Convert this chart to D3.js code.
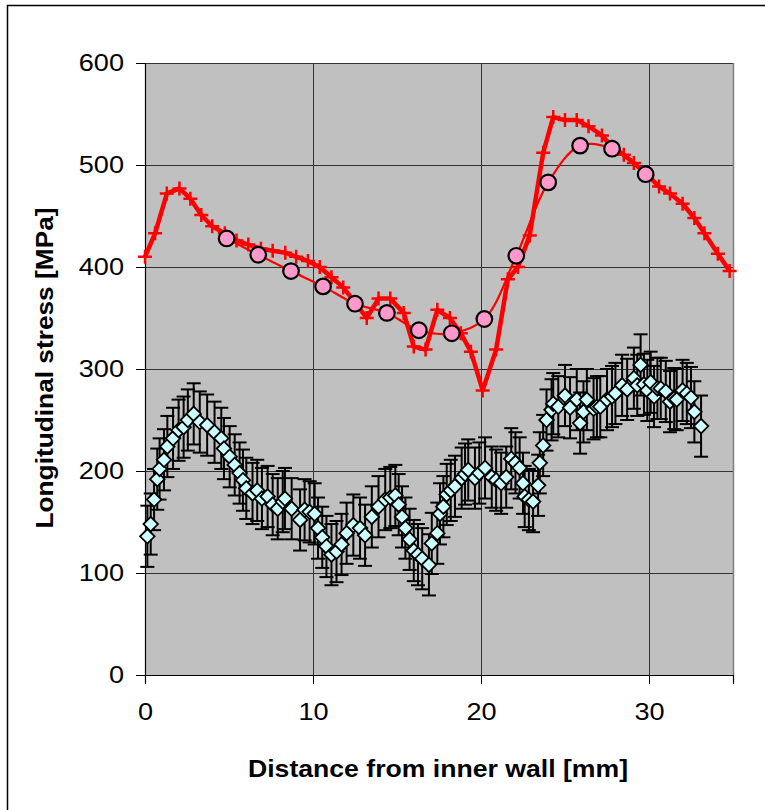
<!DOCTYPE html>
<html>
<head>
<meta charset="utf-8">
<script src="https://cdn.jsdelivr.net/npm/d3@7"></script>
<style>
  html, body { margin: 0; padding: 0; background: #fff; }
  svg { display: block; }
  text { font-family: Arial, "Liberation Sans", sans-serif; }
</style>
</head>
<body>
<svg id="chart" width="765" height="810"></svg>
<script>
// ---------------- data ----------------
const xTicks = [0, 10, 20, 30];
const yTicks = [0, 100, 200, 300, 400, 500, 600];
const xTitle = "Distance from inner wall [mm]";
const yTitle = "Longitudinal stress [MPa]";

// Series 1: thick red line with "+" markers
const s1x = [0, 0.6, 1.3, 2.05, 2.7, 3.35, 4.0, 4.75, 5.45, 6.15, 6.9, 7.6, 8.35, 9.0, 9.7, 10.4, 11.1, 11.8, 12.5, 13.2, 13.9, 14.6, 15.4, 16.0, 16.7, 17.4, 18.15, 18.8, 19.4, 20.1, 20.9, 21.6, 22.2, 22.9, 23.7, 24.3, 25.0, 25.7, 26.4, 27.2, 27.8, 28.5, 29.1, 29.9, 30.6, 31.25, 32.0, 32.7, 33.3, 34.1, 34.8];
const s1y = [410, 433, 472, 477, 467, 451, 440, 433, 426, 422, 418, 416, 414, 410, 406, 400, 390, 380, 365, 350, 369, 369, 355, 322, 319, 358, 350, 335, 317, 279, 319, 388, 400, 431, 512, 547, 544, 544, 538, 529, 518, 510, 502, 490, 479, 472, 462, 448, 433, 413, 396];

// Series 2: pink circles joined by a thin smoothed red line
const s2x = [4.86, 6.74, 8.69, 10.6, 12.5, 14.4, 16.3, 18.26, 20.2, 22.1, 24.0, 25.9, 27.8, 29.8];
const s2y = [428, 412, 396, 381, 364, 355, 338, 335, 349, 411, 483, 519, 516, 491];

// Series 3: light-cyan diamonds with error bars
const s3x = [0.14, 0.34, 0.54, 0.73, 0.87, 1.13, 1.33, 1.67, 2.0, 2.3, 2.55, 2.9, 3.26, 3.7, 4.14, 4.54, 4.7, 5.04, 5.34, 5.63, 5.83, 6.03, 6.4, 6.68, 6.96, 7.3, 7.6, 7.9, 8.2, 8.33, 8.73, 9.23, 9.5, 9.8, 10.1, 10.3, 10.55, 10.8, 11.1, 11.4, 11.7, 12.0, 12.4, 12.8, 13.1, 13.5, 13.9, 14.3, 14.6, 14.9, 15.1, 15.3, 15.5, 15.75, 16.0, 16.25, 16.5, 16.9, 17.07, 17.4, 17.56, 17.76, 17.96, 18.2, 18.45, 18.85, 19.05, 19.24, 19.64, 19.9, 20.24, 20.64, 20.9, 21.2, 21.5, 21.8, 22.05, 22.3, 22.5, 22.6, 22.85, 23.1, 23.4, 23.5, 23.7, 23.9, 24.2, 24.3, 24.6, 25.0, 25.3, 25.7, 25.9, 26.1, 26.3, 26.7, 26.9, 27.1, 27.5, 27.8, 28.0, 28.4, 28.7, 29.1, 29.3, 29.5, 29.7, 29.9, 30.1, 30.3, 30.5, 30.7, 31.0, 31.25, 31.5, 31.65, 32.0, 32.25, 32.5, 32.7, 33.1];
const s3y = [136, 148, 172, 192, 202, 211, 224, 232, 240, 243, 250, 256, 248, 245, 238, 232, 222, 214, 206, 198, 191, 183, 178, 181, 173, 175, 167, 163, 170, 173, 163, 152, 162, 160, 158, 144, 135, 126, 118, 121, 128, 139, 147, 144, 137, 155, 165, 172, 174, 176, 167, 155, 144, 133, 122, 118, 114, 108, 129, 139, 158, 165, 177, 181, 185, 193, 197, 201, 193, 198, 203, 194, 191, 188, 194, 212, 208, 203, 188, 175, 172, 170, 186, 208, 225, 250, 260, 266, 263, 274, 262, 270, 247, 258, 270, 261, 263, 263, 270, 273, 276, 284, 280, 291, 284, 304, 285, 279, 287, 273, 281, 281, 278, 268, 271, 270, 279, 276, 272, 258, 244];
const s3err = 30; // fixed-value error bar (+/-)

// ---------------- layout ----------------
const svg = d3.select("#chart");
const plot = { left: 145, right: 733, top: 63, bottom: 675 };

const x = d3.scaleLinear().domain([0, 35]).range([plot.left, plot.right]);
const y = d3.scaleLinear().domain([0, 600]).range([plot.bottom, plot.top]);

// outer chart frame (cropped at right / bottom like the reference)
svg.append("path")
  .attr("d", "M7.5,815 L7.5,5.5 L770,5.5")
  .attr("fill", "none").attr("stroke", "#000").attr("stroke-width", 1.5);

// plot background
svg.append("rect")
  .attr("x", plot.left).attr("y", plot.top)
  .attr("width", plot.right - plot.left).attr("height", plot.bottom - plot.top)
  .attr("fill", "#C0C0C0");

// gridlines
svg.append("g").selectAll("line").data(yTicks.filter(d => d > 0)).join("line")
  .attr("x1", plot.left).attr("x2", plot.right)
  .attr("y1", d => Math.round(y(d)) + 0.5).attr("y2", d => Math.round(y(d)) + 0.5)
  .attr("stroke", "#333").attr("stroke-width", 1);
svg.append("g").selectAll("line").data(xTicks.filter(d => d > 0)).join("line")
  .attr("y1", plot.top).attr("y2", plot.bottom)
  .attr("x1", d => Math.round(x(d)) + 0.5).attr("x2", d => Math.round(x(d)) + 0.5)
  .attr("stroke", "#333").attr("stroke-width", 1);

// plot right border (gray)
svg.append("line")
  .attr("x1", plot.right + 0.5).attr("x2", plot.right + 0.5)
  .attr("y1", plot.top).attr("y2", plot.bottom)
  .attr("stroke", "#808080").attr("stroke-width", 1.5);

// axes
const yAxis = d3.axisLeft(y).tickValues(yTicks).tickSize(9).tickPadding(10).tickFormat(d3.format("d"));
const gy = svg.append("g").attr("transform", `translate(${plot.left},0)`).call(yAxis);
gy.select(".domain").attr("stroke", "#000").attr("stroke-width", 1.2);
gy.selectAll(".tick line").attr("stroke", "#000");
gy.selectAll("text").attr("font-size", 24).attr("fill", "#000")
  .attr("font-family", "Arial, 'Liberation Sans', sans-serif")
  .attr("x", 0).attr("transform", "translate(-21,0) scale(1.13,1)");

const xAxis = d3.axisBottom(x).tickValues(xTicks).tickSize(9).tickPadding(19).tickFormat(d3.format("d"));
const gx = svg.append("g").attr("transform", `translate(0,${plot.bottom})`).call(xAxis);
gx.select(".domain").attr("stroke", "#000").attr("stroke-width", 1.2);
gx.selectAll(".tick line").attr("stroke", "#000");
gx.selectAll("text").attr("font-size", 24).attr("fill", "#000")
  .attr("font-family", "Arial, 'Liberation Sans', sans-serif")
  .attr("transform", "scale(1.13,1)");

// axis titles
svg.append("text")
  .attr("x", 438).attr("y", 777)
  .attr("text-anchor", "middle").attr("font-size", 24).attr("font-weight", "bold")
  .attr("textLength", 380).attr("lengthAdjust", "spacingAndGlyphs")
  .text(xTitle);
svg.append("text")
  .attr("transform", "translate(53,368) rotate(-90)")
  .attr("text-anchor", "middle").attr("font-size", 24).attr("font-weight", "bold")
  .attr("textLength", 321).attr("lengthAdjust", "spacingAndGlyphs")
  .text(yTitle);

// ---------------- series 3: diamonds with error bars ----------------
const d3data = s3x.map((v, i) => ({ x: v, y: s3y[i] }));
const gErr = svg.append("g").attr("stroke", "#000").attr("stroke-width", 2);
d3data.forEach(d => {
  const cx = x(d.x), yt = y(d.y + s3err), yb = y(d.y - s3err);
  gErr.append("line").attr("x1", cx).attr("x2", cx).attr("y1", yt).attr("y2", yb);
  gErr.append("line").attr("x1", cx - 7).attr("x2", cx + 7).attr("y1", yt).attr("y2", yt);
  gErr.append("line").attr("x1", cx - 7).attr("x2", cx + 7).attr("y1", yb).attr("y2", yb);
});
const diamond = d3.symbol().type(d3.symbolDiamond2).size(135);
svg.append("g").selectAll("path").data(d3data).join("path")
  .attr("transform", d => `translate(${x(d.x)},${y(d.y)})`)
  .attr("d", diamond)
  .attr("fill", "#CCFFFF").attr("stroke", "#000").attr("stroke-width", 1.8);

// ---------------- series 1: thick red line ----------------
const d1 = s1x.map((v, i) => ({ x: v, y: s1y[i] }));
svg.append("path").datum(d1)
  .attr("d", d3.line().x(d => x(d.x)).y(d => y(d.y)))
  .attr("fill", "none").attr("stroke", "#FF0000").attr("stroke-width", 4.5)
  .attr("stroke-linejoin", "round");
svg.append("g").selectAll("path").data(d1).join("path")
  .attr("transform", d => `translate(${x(d.x)},${y(d.y)})`)
  .attr("d", "M-7,0H7M0,-7V7")
  .attr("fill", "none").attr("stroke", "#FF0000").attr("stroke-width", 2.5);

// ---------------- series 2: thin smoothed line with pink circles ----------------
const d2 = s2x.map((v, i) => ({ x: v, y: s2y[i] }));
svg.append("path").datum(d2)
  .attr("d", d3.line().x(d => x(d.x)).y(d => y(d.y)).curve(d3.curveCatmullRom.alpha(0.5)))
  .attr("fill", "none").attr("stroke", "#FF0000").attr("stroke-width", 2.2);
svg.append("g").selectAll("circle").data(d2).join("circle")
  .attr("cx", d => x(d.x)).attr("cy", d => y(d.y)).attr("r", 7.8)
  .attr("fill", "#FF99CC").attr("stroke", "#000").attr("stroke-width", 2.2);
</script>
</body>
</html>
